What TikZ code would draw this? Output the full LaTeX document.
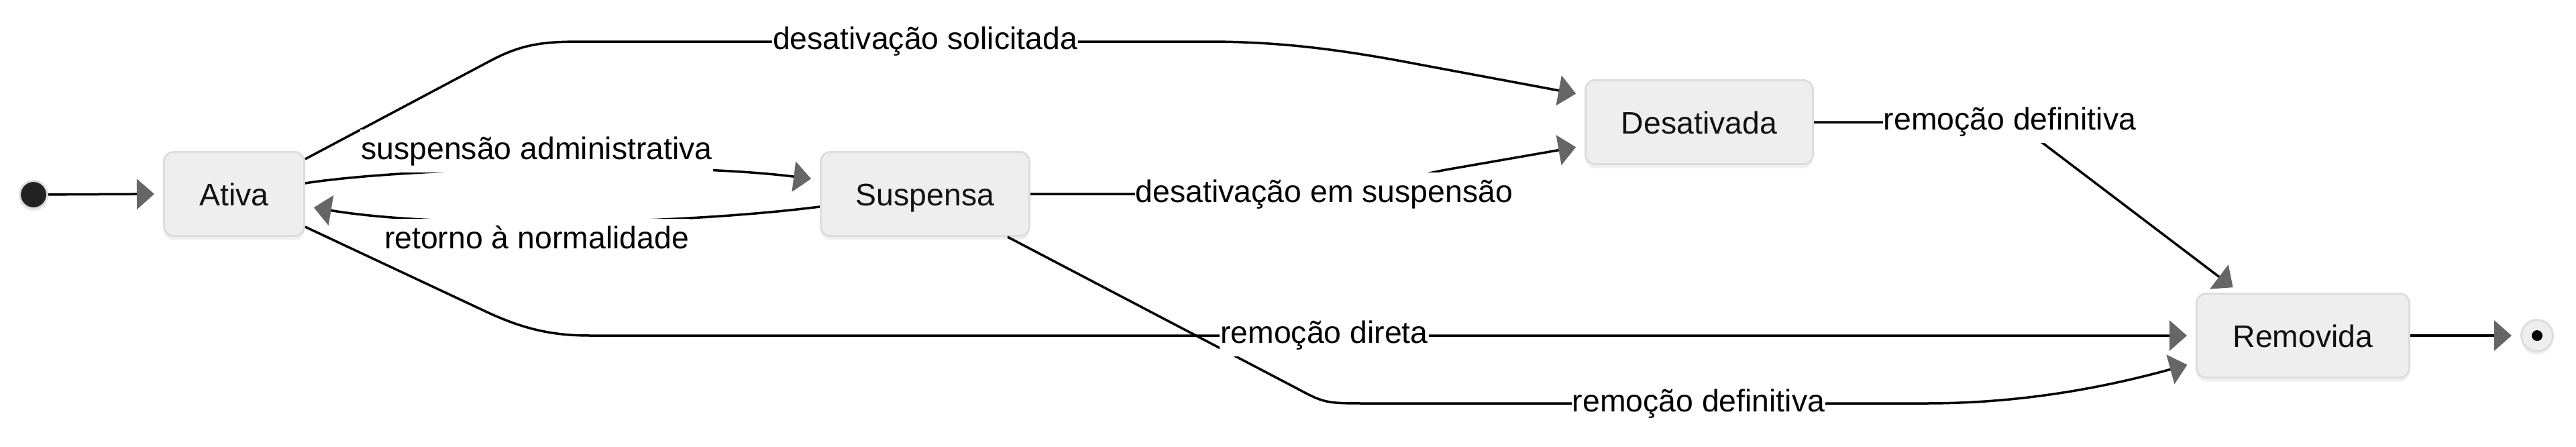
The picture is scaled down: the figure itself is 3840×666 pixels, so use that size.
\documentclass[tikz,border=0pt]{standalone}
\usepackage{fontspec}
\setmainfont{Liberation Sans}
\usetikzlibrary{arrows.meta,shadows}
\definecolor{boxfill}{HTML}{EEEEEE}
\definecolor{boxline}{HTML}{DDDDDD}
\definecolor{tipgray}{HTML}{666666}
\definecolor{dotfill}{HTML}{222222}
\definecolor{boxtext}{HTML}{111111}
\begin{document}
\begin{tikzpicture}[x=0.1mm,y=-0.1mm,
  stbox/.style={draw=boxline, fill=boxfill, line width=0.3mm, rounded corners=1.4mm,
    minimum height=12.5mm, inner sep=0pt, text height=3.4mm, text depth=0mm,
    text=boxtext, font=\fontsize{13.2}{16}\selectfont,
    drop shadow={opacity=0.12, shadow xshift=0mm, shadow yshift=-0.6mm}},
  lbl/.style={fill=white, inner xsep=0.1mm, inner ysep=1mm, text height=3.4mm,
    text depth=1mm, font=\fontsize{13.2}{16}\selectfont},
  conn/.style={draw=black, line width=0.35mm,
    -{Triangle[length=2.6mm,width=4.5mm,color=tipgray]}, shorten >=1.3mm},
]
\useasboundingbox (0,0) rectangle (3840,666);

% states
\node[circle, fill=dotfill, draw=boxline, line width=0.3mm, minimum size=4.1mm,
  inner sep=0pt, drop shadow={opacity=0.12, shadow xshift=0mm, shadow yshift=-0.5mm}] (start) at (50,290) {};
\node[stbox, minimum width=20.9mm] (Ativa) at (349,289) {Ativa};
\node[stbox, minimum width=31.1mm] (Suspensa) at (1379,289) {Suspensa};
\node[stbox, minimum width=33.9mm] (Desativada) at (2533,182) {Desativada};
\node[stbox, minimum width=31.7mm] (Removida) at (3433,500) {Removida};
\node[circle, fill=boxfill, draw=boxline, line width=0.3mm, minimum size=4.7mm,
  inner sep=0pt, drop shadow={opacity=0.12, shadow xshift=0mm, shadow yshift=-0.5mm}] (final) at (3782,500) {};
\node[circle, fill=black, minimum size=1.6mm, inner sep=0pt] (finaldot) at (final) {};

% transitions
\draw[conn] (start) -- (Ativa.west);
\draw[conn] ([yshift=-1.2mm]Ativa.north east) -- (732,90)
  .. controls (785,62) and (820,62) .. (880,62) -- (1800,62)
  .. controls (1900,62) and (1990,72) .. (2110,95) -- ([yshift=4mm]Desativada.west);
\draw[conn] ([yshift=1.6mm]Ativa.east) .. controls (600,250) and (1000,240) .. ([yshift=2.1mm]Suspensa.west);
\draw[conn] ([yshift=-1.9mm]Suspensa.west) .. controls (1000,336) and (650,340) .. ([yshift=-1.8mm]Ativa.east);
\draw[conn] (Suspensa.east) -- (1950,289) .. controls (2030,289) and (2090,265) .. (2155,253)
  -- ([yshift=-3.5mm]Desativada.west);
\draw[conn] ([yshift=1.5mm]Ativa.south east) -- (726,465)
  .. controls (786,493) and (830,500) .. (880,500) -- (Removida.west);
\draw[conn] ([xshift=-3.4mm]Suspensa.south east) -- (1930,577)
  .. controls (1975,601) .. (2040,601) -- (2870,601)
  .. controls (3000,601) and (3120,582) .. ([yshift=-4mm]Removida.west);
\draw[conn] (Desativada.east) -- (3004,182) -- ([xshift=6.6mm]Removida.north west);
\draw[conn] (Removida.east) -- (final);

% labels
\node[lbl] (l1) at (1379,61) {desativação solicitada};
\node[lbl] (l2) at (800,225) {suspensão administrativa};
\node[lbl] (l3) at (800,358) {retorno à normalidade};
\node[lbl] (l4) at (1974,289) {desativação em suspensão};
\node[lbl] (l5) at (1974,499) {remoção direta};
\node[lbl] (l6) at (2532,601) {remoção definitiva};
\node[lbl] (l7) at (2996,181) {remoção definitiva};
\end{tikzpicture}
\end{document}
